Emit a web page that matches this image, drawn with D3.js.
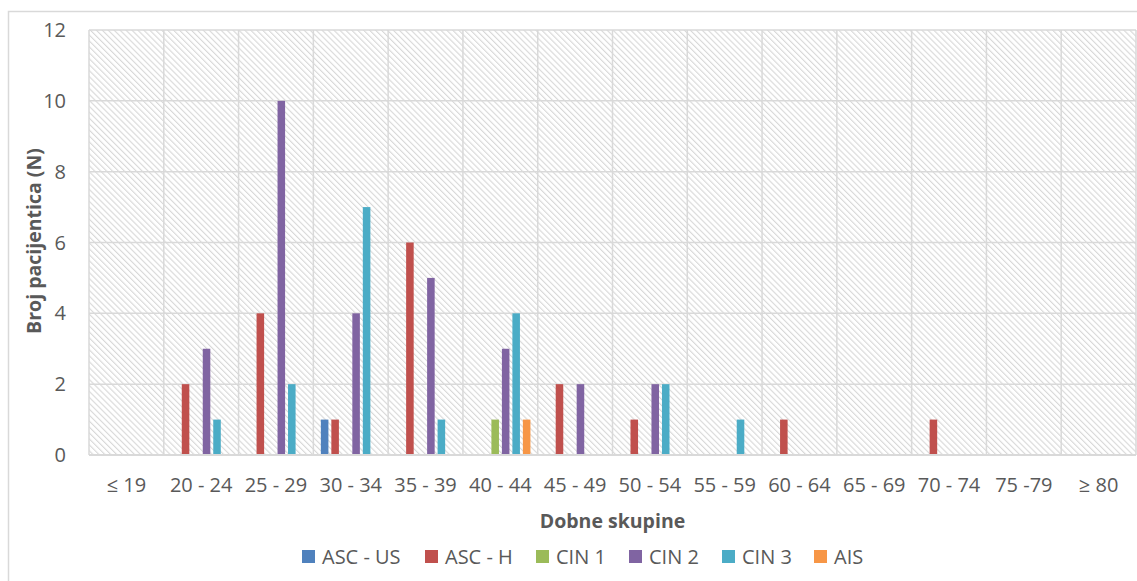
<!DOCTYPE html>
<html>
<head>
<meta charset="utf-8">
<script src="https://cdn.jsdelivr.net/npm/d3@7"></script>
<style>
	body { margin: 0; background: #fff; }
	text { font-family: "Open Sans", Lato, sans-serif; }
</style>
</head>
<body>
<svg class="chart"></svg>
<script>
// Data
var ageGroups = ["≤ 19", "20 - 24", "25 - 29", "30 - 34", "35 - 39", "40 - 44", "45 - 49",
	"50 - 54", "55 - 59", "60 - 64", "65 - 69", "70 - 74", "75 -79", "≥ 80"];
var seriesNames = ["ASC - US", "ASC - H", "CIN 1", "CIN 2", "CIN 3", "AIS"];
var ascUs = [0, 0, 0, 1, 0, 0, 0, 0, 0, 0, 0, 0, 0, 0];
var ascH  = [0, 2, 4, 1, 6, 0, 2, 1, 0, 1, 0, 1, 0, 0];
var cin1  = [0, 0, 0, 0, 0, 1, 0, 0, 0, 0, 0, 0, 0, 0];
var cin2  = [0, 3, 10, 4, 5, 3, 2, 2, 0, 0, 0, 0, 0, 0];
var cin3  = [0, 1, 2, 7, 1, 4, 0, 2, 1, 0, 0, 0, 0, 0];
var ais   = [0, 0, 0, 0, 0, 1, 0, 0, 0, 0, 0, 0, 0, 0];
var yTicks = [0, 2, 4, 6, 8, 10, 12];
var colors = ["#4F81BD", "#C0504D", "#9BBB59", "#8064A2", "#4BACC6", "#F79646"];

var allSeries = [ascUs, ascH, cin1, cin2, cin3, ais];

var width = 1137, height = 581;
var svg = d3.select(".chart").attr("width", width).attr("height", height);

// outer chart border
svg.append("rect")
	.attr("x", 8.5).attr("y", 11.5)
	.attr("width", 1140).attr("height", 580)
	.attr("fill", "none").attr("stroke", "#d9d9d9").attr("stroke-width", 1.5);

var plot = { left: 89, right: 1136, top: 30, bottom: 455 };

// hatch pattern (downward diagonal)
var defs = svg.append("defs");
var pat = defs.append("pattern")
	.attr("id", "hatch")
	.attr("patternUnits", "userSpaceOnUse")
	.attr("width", 4.2).attr("height", 4.2)
	.attr("patternTransform", "rotate(-45)");
pat.append("rect").attr("width", 4.2).attr("height", 4.2).attr("fill", "#fff");
pat.append("line")
	.attr("x1", 0).attr("y1", 0).attr("x2", 0).attr("y2", 4.2)
	.attr("stroke", "#d8d8d8").attr("stroke-width", 2.2);

var x0 = d3.scaleBand().domain(ageGroups).range([plot.left, plot.right]);
var x1 = d3.scaleBand().domain(seriesNames).range([7.5, 67.5]).paddingInner(0.28);
var y = d3.scaleLinear().domain([0, 12]).range([plot.bottom, plot.top]);

svg.append("rect")
	.attr("x", plot.left).attr("y", plot.top)
	.attr("width", plot.right - plot.left).attr("height", plot.bottom - plot.top)
	.attr("fill", "url(#hatch)");

// horizontal gridlines
svg.append("g").selectAll("line")
	.data(yTicks)
	.enter().append("line")
	.attr("x1", plot.left).attr("x2", plot.right)
	.attr("y1", function(d) { return y(d); })
	.attr("y2", function(d) { return y(d); })
	.attr("stroke", "#d9d9d9").attr("stroke-width", 1.5);

// vertical gridlines at category edges
var edges = ageGroups.map(function(g) { return x0(g); }).concat([plot.right]);
svg.append("g").selectAll("line")
	.data(edges)
	.enter().append("line")
	.attr("x1", function(d) { return d; }).attr("x2", function(d) { return d; })
	.attr("y1", plot.top).attr("y2", plot.bottom)
	.attr("stroke", "#d9d9d9").attr("stroke-width", 1.5);

// bars
var cells = [];
allSeries.forEach(function(vals, si) {
	vals.forEach(function(v, ci) {
		cells.push({ series: seriesNames[si], color: colors[si], group: ageGroups[ci], value: v });
	});
});

svg.append("g").selectAll("rect")
	.data(cells.filter(function(d) { return d.value > 0; }))
	.enter().append("rect")
	.attr("x", function(d) { return x0(d.group) + x1(d.series); })
	.attr("y", function(d) { return y(d.value); })
	.attr("width", x1.bandwidth())
	.attr("height", function(d) { return y(0) - y(d.value); })
	.attr("fill", function(d) { return d.color; });

// bottom axis line
svg.append("line")
	.attr("x1", plot.left).attr("x2", plot.right)
	.attr("y1", plot.bottom).attr("y2", plot.bottom)
	.attr("stroke", "#d9d9d9").attr("stroke-width", 2);

// y tick labels
svg.append("g").selectAll("text")
	.data(yTicks)
	.enter().append("text")
	.attr("x", 66)
	.attr("y", function(d) { return y(d) + 7; })
	.attr("text-anchor", "end")
	.attr("font-size", 20)
	.attr("fill", "#595959")
	.text(function(d) { return d; });

// x tick labels
svg.append("g").selectAll("text")
	.data(ageGroups)
	.enter().append("text")
	.attr("x", function(d) { return x0(d) + x0.bandwidth() / 2; })
	.attr("y", 492)
	.attr("text-anchor", "middle")
	.attr("font-size", 20)
	.attr("fill", "#595959")
	.text(function(d) { return d; });

// axis titles
svg.append("text")
	.attr("x", (plot.left + plot.right) / 2).attr("y", 528)
	.attr("text-anchor", "middle")
	.attr("font-size", 19.5).attr("font-weight", "bold")
	.attr("fill", "#595959")
	.text("Dobne skupine");

svg.append("text")
	.attr("transform", "translate(41,241) rotate(-90)")
	.attr("text-anchor", "middle")
	.attr("font-size", 19.5).attr("font-weight", "bold")
	.attr("fill", "#595959")
	.text("Broj pacijentica (N)");

// legend
var legendX = [302, 425, 536, 629, 722, 814];
var legend = svg.append("g").selectAll("g")
	.data(seriesNames)
	.enter().append("g")
	.attr("transform", function(d, i) { return "translate(" + legendX[i] + ",550)"; });
legend.append("rect")
	.attr("width", 13).attr("height", 13)
	.attr("fill", function(d, i) { return colors[i]; });
legend.append("text")
	.attr("x", 20).attr("y", 13.5)
	.attr("font-size", 20)
	.attr("fill", "#595959")
	.text(function(d) { return d; });
</script>
</body>
</html>
